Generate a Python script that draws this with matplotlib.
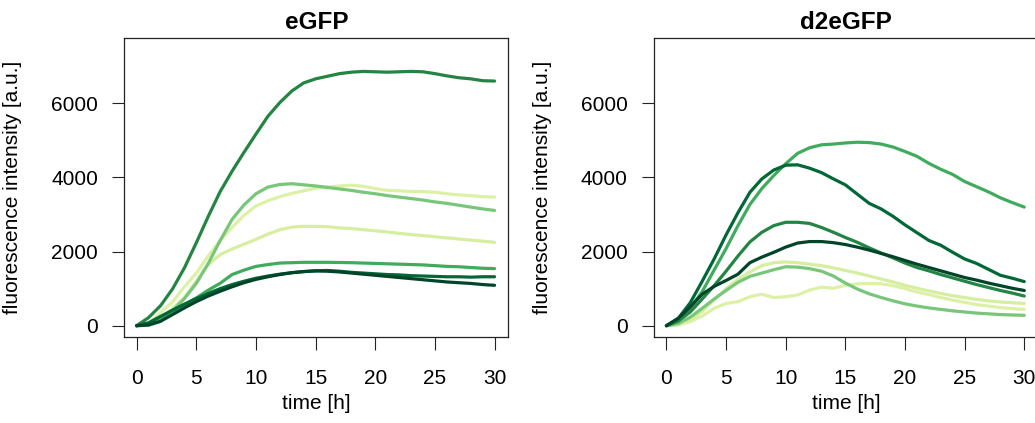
import matplotlib
matplotlib.use("Agg")
import matplotlib.pyplot as plt

plt.rcParams['font.family'] = ['Liberation Sans', 'DejaVu Sans']

hours = list(range(0, 31))

# eGFP panel, one list per well (values at every hour)
egfp_a = [0, 220, 540, 990, 1560, 2240, 2950, 3620, 4170, 4680, 5170, 5650, 6020, 6330, 6550, 6660,
          6730, 6800, 6840, 6860, 6850, 6840, 6850, 6860, 6850, 6800, 6740, 6690, 6660, 6610, 6600]
egfp_b = [0, 10, 120, 400, 730, 1145, 1680, 2300, 2870, 3260, 3560, 3740, 3810, 3830, 3800, 3770,
          3730, 3690, 3650, 3600, 3560, 3510, 3470, 3430, 3390, 3340, 3300, 3250, 3200, 3150, 3110]
egfp_c = [0, 50, 350, 640, 1050, 1420, 1880, 2300, 2650, 2980, 3230, 3370, 3480, 3570, 3640, 3710,
          3740, 3770, 3790, 3760, 3700, 3650, 3640, 3620, 3620, 3600, 3560, 3530, 3510, 3480, 3470]
egfp_d = [0, 60, 200, 460, 760, 1200, 1650, 1920, 2070, 2200, 2330, 2470, 2590, 2660, 2680, 2680,
          2670, 2640, 2620, 2590, 2560, 2530, 2490, 2460, 2430, 2400, 2370, 2340, 2310, 2280, 2250]
egfp_e = [0, 50, 220, 370, 570, 750, 960, 1145, 1380, 1500, 1600, 1650, 1690, 1700, 1710, 1710,
          1710, 1705, 1700, 1690, 1680, 1670, 1660, 1650, 1640, 1620, 1600, 1590, 1570, 1550, 1540]
egfp_f = [0, 80, 250, 420, 580, 730, 870, 1000, 1110, 1200, 1280, 1340, 1390, 1430, 1460, 1480,
          1490, 1470, 1440, 1420, 1400, 1380, 1370, 1350, 1340, 1330, 1320, 1320, 1310, 1320, 1320]
egfp_g = [0, 20, 120, 300, 480, 650, 800, 930, 1050, 1160, 1250, 1320, 1380, 1430, 1460, 1480,
          1470, 1450, 1420, 1390, 1360, 1330, 1300, 1270, 1240, 1210, 1180, 1160, 1140, 1110, 1090]

# d2eGFP panel
d2_a = [0, 120, 480, 920, 1500, 2080, 2700, 3270, 3700, 4050, 4370, 4650, 4800, 4880, 4900, 4930,
        4950, 4940, 4900, 4820, 4700, 4570, 4380, 4220, 4080, 3890, 3750, 3610, 3450, 3320, 3200]
d2_b = [0, 200, 620, 1200, 1800, 2450, 3050, 3600, 3960, 4200, 4330, 4340, 4250, 4130, 3960, 3800,
        3550, 3300, 3150, 2950, 2720, 2510, 2300, 2170, 1980, 1800, 1680, 1520, 1360, 1280, 1190]
d2_c = [0, 130, 370, 720, 1080, 1470, 1880, 2260, 2520, 2700, 2790, 2790, 2760, 2650, 2520, 2380,
        2250, 2100, 1960, 1830, 1690, 1570, 1480, 1380, 1290, 1200, 1110, 1030, 950, 880, 800]
d2_d = [0, 200, 510, 850, 1060, 1220, 1390, 1700, 1850, 1980, 2120, 2230, 2270, 2270, 2240, 2190,
        2120, 2040, 1950, 1860, 1760, 1660, 1570, 1480, 1390, 1300, 1230, 1150, 1080, 1010, 950]
d2_e = [0, 60, 230, 470, 720, 950, 1170, 1330, 1420, 1510, 1590, 1580, 1540, 1470, 1340, 1150,
        990, 860, 760, 670, 590, 530, 480, 440, 400, 370, 340, 320, 300, 290, 280]
d2_f = [0, 30, 160, 380, 700, 1000, 1250, 1450, 1620, 1700, 1720, 1700, 1660, 1620, 1560, 1490,
        1420, 1340, 1260, 1180, 1090, 1010, 940, 870, 810, 760, 710, 670, 640, 620, 600]
d2_g = [0, 20, 110, 260, 470, 600, 650, 780, 850, 760, 780, 830, 960, 1040, 1010, 1090,
        1130, 1140, 1130, 1080, 1000, 910, 840, 760, 690, 630, 570, 530, 490, 460, 440]

egfp_series = [egfp_c, egfp_d, egfp_b, egfp_e, egfp_a, egfp_f, egfp_g]
egfp_colors = ['#DDF1A6', '#D6EE9F', '#78C679', '#41AB5D', '#238443', '#006837', '#004529']
d2_series = [d2_g, d2_f, d2_e, d2_a, d2_c, d2_b, d2_d]
d2_colors = ['#DDF1A6', '#D6EE9F', '#78C679', '#41AB5D', '#238443', '#006837', '#004529']

fig = plt.figure(figsize=(10.35, 4.23), dpi=100)
ax1 = fig.add_axes([0.1201, 0.204, 0.3711, 0.7069])
ax2 = fig.add_axes([0.6319, 0.204, 0.3711, 0.7069])

for ax, series, colors, title in [(ax1, egfp_series, egfp_colors, 'eGFP'),
                                  (ax2, d2_series, d2_colors, 'd2eGFP')]:
    for vals, col in zip(series, colors):
        ax.plot(hours, vals, color=col, lw=2.3, solid_capstyle='round', solid_joinstyle='round')
    ax.set_xlim(-1.04, 31.16)
    ax.set_ylim(-297, 7770)
    ax.set_xticks([0, 5, 10, 15, 20, 25, 30])
    ax.set_yticks([0, 2000, 4000, 6000])
    ax.tick_params(axis='both', direction='out', length=9, width=0.8, labelsize=15, color='#222222')
    ax.tick_params(axis='x', pad=14)
    ax.tick_params(axis='y', pad=10)
    for sp in ax.spines.values():
        sp.set_linewidth(0.9)
        sp.set_color('#222222')
    ax.set_title(title, fontsize=17.5, fontweight='bold', pad=6)
    ax.set_xlabel('time [h]', fontsize=15)
    ax.set_ylabel('fluorescence intensity [a.u.]', fontsize=15)
    ax.xaxis.set_label_coords(0.5, -0.19)
    ax.yaxis.set_label_coords(-0.266, 0.5)

fig.savefig('out.png', dpi=100)
